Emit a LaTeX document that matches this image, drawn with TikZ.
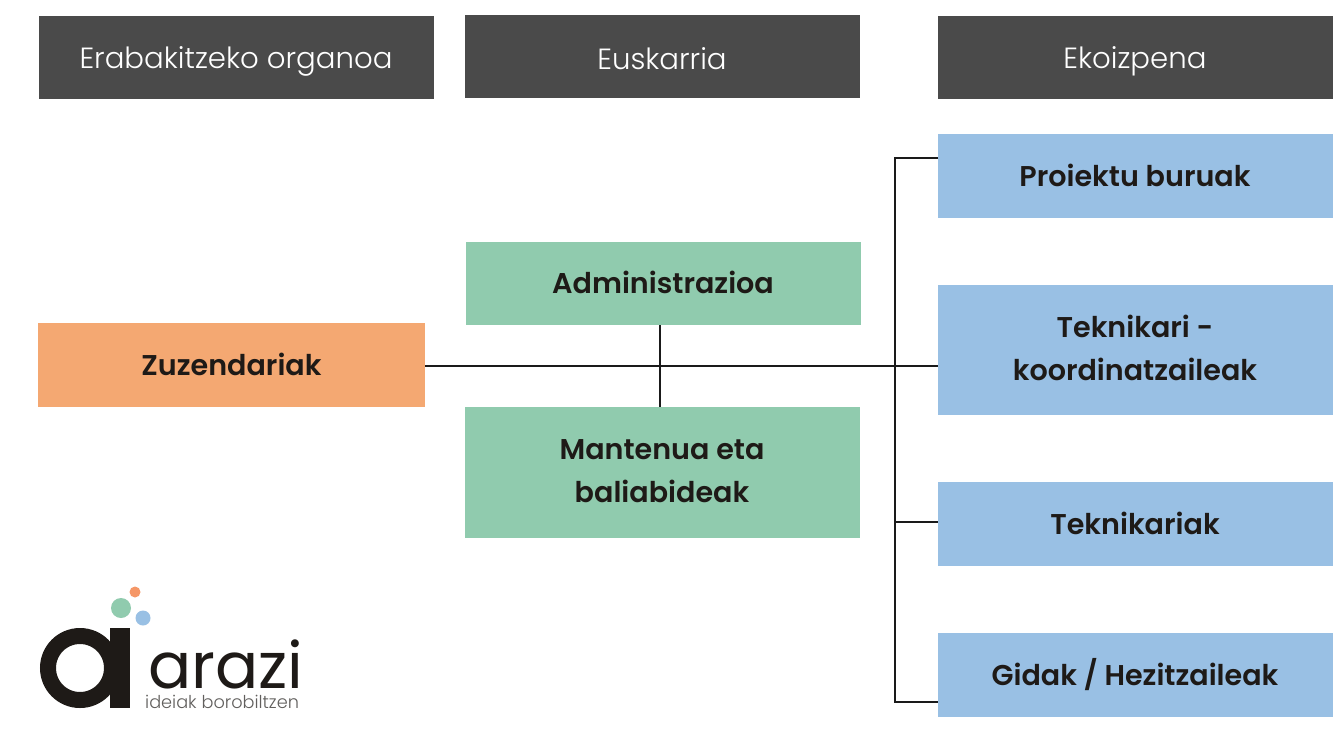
\documentclass[tikz,border=0pt]{standalone}
\usepackage{fontspec}
\setmainfont{Poppins}
\newfontfamily\hfont{Poppins Light}
\newfontfamily\bfont{Poppins SemiBold}
\definecolor{hdr}{HTML}{4A4A4A}
\definecolor{org}{HTML}{F4A872}
\definecolor{grn}{HTML}{90CBAE}
\definecolor{blu}{HTML}{99C0E4}
\definecolor{lin}{HTML}{1A1A1A}
\definecolor{ink}{HTML}{1E1A17}
\newcommand{\lift}[2]{\raisebox{#1}{#2}}
\tikzset{
  x=1pt,y=-1pt,
  box/.style={minimum width=#1,inner sep=0pt,align=center,anchor=center},
  hdrbox/.style={fill=hdr,text=white,minimum height=83pt,font=\hfont\fontsize{29.2}{34}\selectfont,text height=23pt,text depth=0pt},
  item/.style={font=\bfont\fontsize{28.6}{43}\selectfont,text=ink},
  one/.style={text height=21pt,text depth=0pt},
  conn/.style={draw=lin,line width=2.2pt},
}
\begin{document}
\begin{tikzpicture}
\useasboundingbox (0,0) rectangle (1337,742);
\fill[white] (0,0) rectangle (1337,742);
\node[box=395pt,hdrbox] (h1) at (236,57) {Erabakitzeko organoa};
\node[box=395pt,hdrbox,text height=27pt] (h2) at (662,56) {Euskarria};
\node[box=395pt,hdrbox] (h3) at (1135,57) {Ekoizpena};
\node[box=387pt,item,one,fill=org,minimum height=84pt] (zu) at (231.5,365) {Zuzendariak};
\node[box=395pt,item,one,fill=grn,minimum height=83pt] (ad) at (663,283) {Administrazioa};
\node[box=395pt,item,fill=grn,minimum height=131pt] (ma) at (662,472) {\lift{1.5pt}{Mantenua eta}\\\lift{1.5pt}{baliabideak}};
\node[box=395pt,item,one,fill=blu,minimum height=84pt] (p1) at (1135,175.5) {Proiektu buruak};
\node[box=395pt,item,fill=blu,minimum height=130pt] (p2) at (1135,349.5) {\lift{3.5pt}{Teknikari -}\\\lift{3.5pt}{koordinatzaileak}};
\node[box=395pt,item,one,fill=blu,minimum height=84pt] (p3) at (1135,524) {Teknikariak};
\node[box=395pt,item,one,fill=blu,minimum height=84pt] (p4) at (1135,674.5) {Gidak / Hezitzaileak};
\coordinate (t2) at (938,366);
\coordinate (mid) at (zu.east |- t2);
\coordinate (a1) at (660,325);
\coordinate (a2) at (660,407);
\coordinate (tt) at (895,158);
\coordinate (t1) at (938,158);
\coordinate (t3) at (938,522);
\coordinate (tm) at (895,522);
\coordinate (t4) at (938,702);
\coordinate (tb) at (895,702);
\draw[conn] (mid) -- (t2);
\draw[conn] (a1) -- (a2);
\draw[conn,line join=miter] (t1) -- (tt) -- (tb) -- (t4);
\draw[conn] (tm) -- (t3);
% logo
\fill[fill=grn] (121,608) circle (10pt);
\fill[fill=org!90!red] (135,592) circle (5.5pt);
\fill[fill=blu] (143,618) circle (7.5pt);
\draw[ink,line width=16pt] (80,668) circle (32pt);
\fill[ink] (110,628) rectangle (130,708);
\node[anchor=base west,inner sep=0pt,text=ink,font=\rmfamily\fontsize{64}{64}\selectfont] (lg) at (148,688) {arazi};
\node[anchor=base west,inner sep=0pt,text=ink!70,font=\hfont\fontsize{17.7}{17.7}\selectfont] (lg2) at (145,708) {ideiak borobiltzen};
\end{tikzpicture}
\end{document}
